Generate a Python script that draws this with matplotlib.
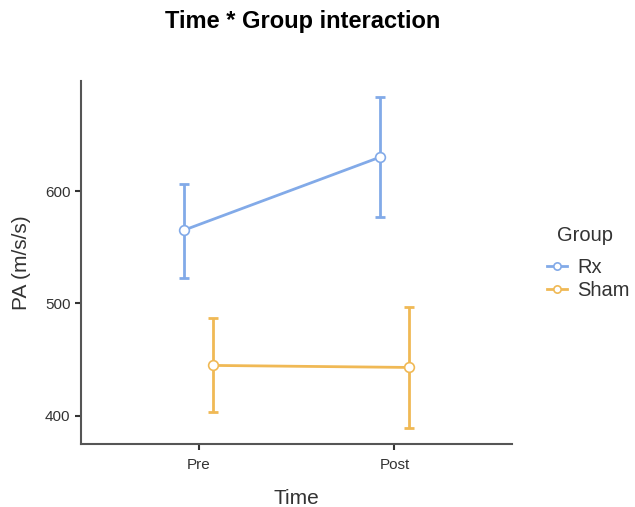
import numpy as np
import matplotlib.pyplot as plt

plt.rcParams['font.family'] = ['Liberation Sans', 'DejaVu Sans']

# Data
times = ['Pre', 'Post']
groups = ['Rx', 'Sham']
rx_mean = [565.3, 630.2]
rx_lower = [522.7, 576.9]
rx_upper = [606.2, 683.6]
sham_mean = [444.9, 443.1]
sham_lower = [403.1, 388.9]
sham_upper = [486.7, 497.3]

colors = {'Rx': '#82aae8', 'Sham': '#f0b955'}
dodge = {'Rx': -0.074, 'Sham': 0.074}

fig = plt.figure(figsize=(6.35, 5.07), dpi=100)
ax = fig.add_axes([0.1276, 0.1243, 0.6787, 0.7160])

x = np.arange(1, len(times) + 1)
series = {'Rx': (rx_mean, rx_lower, rx_upper),
          'Sham': (sham_mean, sham_lower, sham_upper)}

handles = []
for g in groups:
    m, lo, hi = (np.array(v) for v in series[g])
    xs = x + dodge[g]
    ax.errorbar(xs, m, yerr=[m - lo, hi - m], fmt='none', ecolor=colors[g],
                elinewidth=2, capsize=3.5, capthick=2, zorder=2)
    h, = ax.plot(xs, m, color=colors[g], lw=2, marker='o', markersize=7,
                 markerfacecolor='white', markeredgecolor=colors[g],
                 markeredgewidth=1.2, zorder=3, label=g)
    handles.append(h)

ax.set_xlim(0.4, 2.6)
ax.set_ylim(375, 698)
ax.set_xticks(x)
ax.set_xticklabels(times)
ax.set_yticks([400, 500, 600])

for s in ['top', 'right']:
    ax.spines[s].set_visible(False)
for s in ['left', 'bottom']:
    ax.spines[s].set_color('#555555')
    ax.spines[s].set_linewidth(1.5)
ax.tick_params(axis='both', colors='#333333', labelsize=11, length=4,
               width=1.5, direction='out')
ax.tick_params(axis='x', pad=6)

ax.set_xlabel('Time', fontsize=15, color='#333333', labelpad=12)
ax.set_ylabel('PA (m/s/s)', fontsize=15, color='#333333', labelpad=10)

fig.text(0.476, 0.958, 'Time * Group interaction', ha='center', va='center',
         fontsize=17, fontweight='bold')

# legend title drawn separately to get the wider gap above the entries
fig.text(0.877, 1 - 236 / 507, 'Group', ha='left', va='center',
         fontsize=14.5, color='#333333')
leg = fig.legend(handles=handles, loc='upper left',
                 bbox_to_anchor=(0.862, 1 - 258 / 507), frameon=False,
                 fontsize=14.5, handlelength=0.95, handletextpad=0.55,
                 labelspacing=0.2, markerscale=0.75, borderaxespad=0,
                 borderpad=0)
for t in leg.get_texts():
    t.set_color('#333333')

fig.savefig('out.png', dpi=100)
